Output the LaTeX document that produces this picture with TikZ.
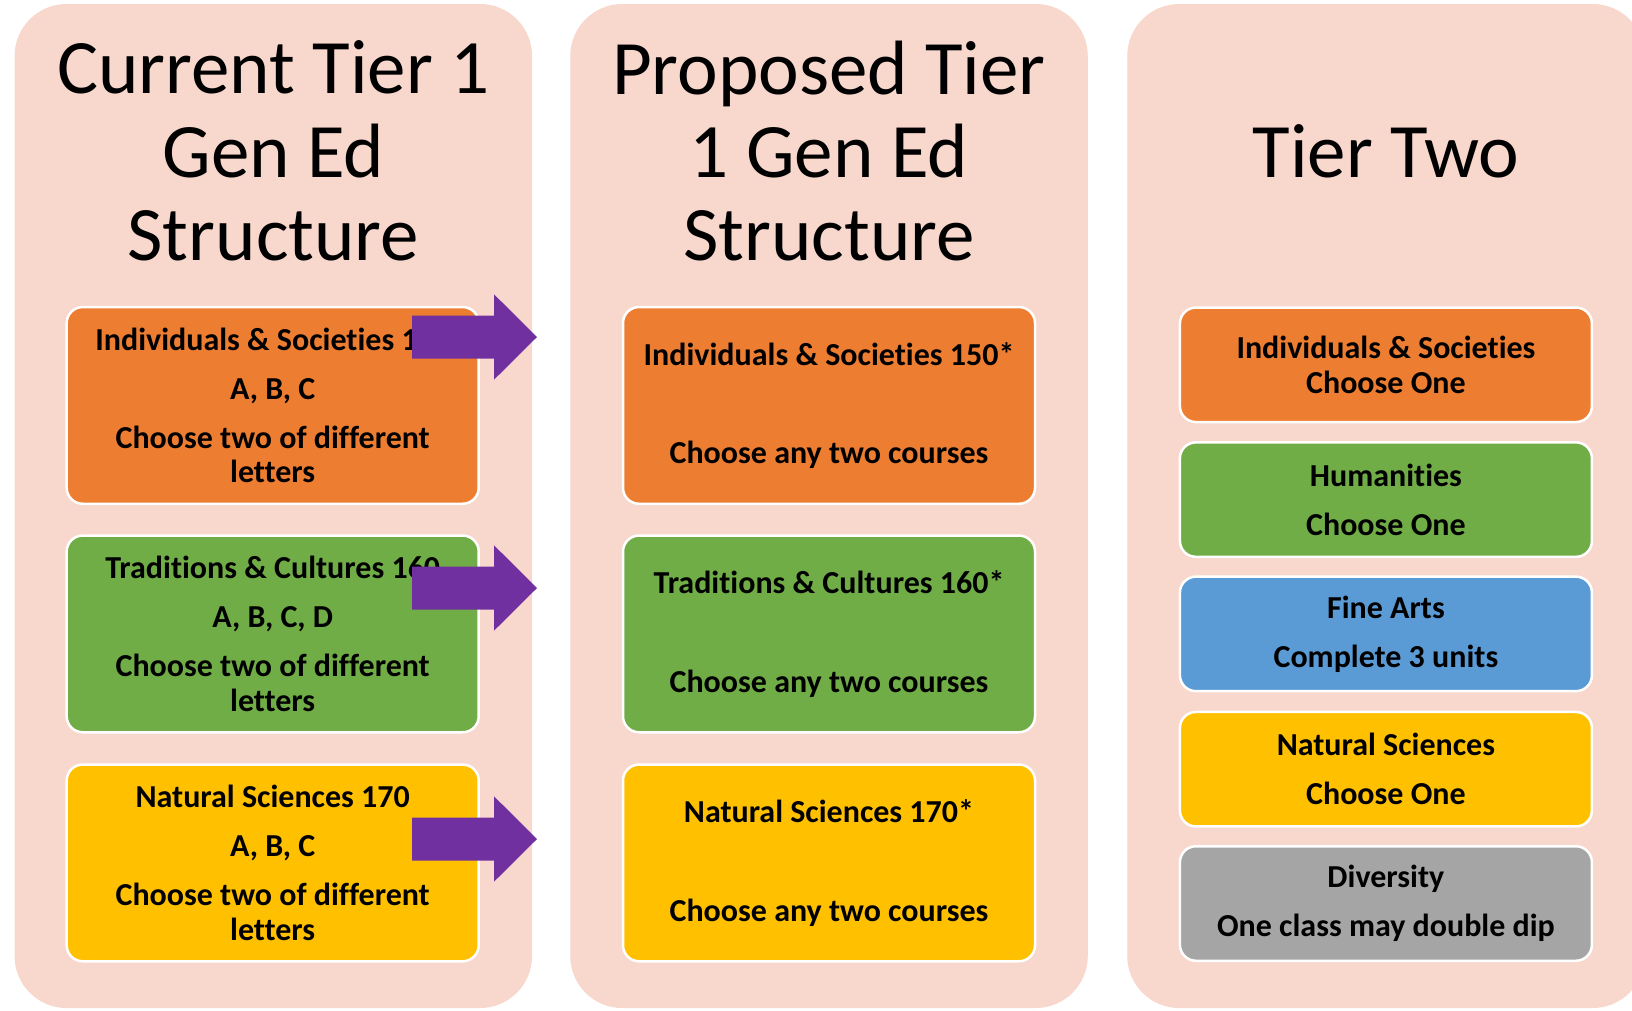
\documentclass[tikz,border=0pt]{standalone}
\usepackage{fontspec}
\setmainfont{Carlito}[Ligatures=NoCommon]
\usepackage{tikz}

\definecolor{panelpink}{HTML}{F8D7CD}
\definecolor{isorange}{HTML}{ED7D31}
\definecolor{tcgreen}{HTML}{70AD47}
\definecolor{fablue}{HTML}{5B9BD5}
\definecolor{nsgold}{HTML}{FFC000}
\definecolor{divgray}{HTML}{A5A5A5}
\definecolor{arrowpurple}{HTML}{7030A0}

\tikzset{
  panel/.style={fill=panelpink, rounded corners=52pt, minimum width=517.5pt, minimum height=1004pt, inner sep=0pt},
  heading/.style={align=center, font=\fontsize{77}{83.3}\selectfont, inner sep=0pt},
  tierbox/.style={draw=white, line width=2.5pt, rounded corners=16pt, align=center, inner sep=0pt,
    minimum width=412pt, font=\fontsize{32}{34.4}\selectfont\bfseries},
  bigbox/.style={tierbox, minimum height=196.7pt},
  smallbox/.style={tierbox, minimum height=114.5pt},
  blockarrow/.style={fill=arrowpurple}
}

\begin{document}
\begin{tikzpicture}[x=1pt,y=-1pt]
					\useasboundingbox (0,0) rectangle (1632,1010);
					\clip (0,0) rectangle (1632,1010);

					% the three columns
					\node[panel] (current) at (273.3,506) {};
					\node[panel] (proposed) at (829,506) {};
					\node[panel] (tiertwo) at (1386,506) {};

					\node[heading] (currenttitle) at (273.3,151) {Current Tier 1\\Gen Ed\\Structure};
					\node[heading] (proposedtitle) at (829,151) {Proposed Tier\\1 Gen Ed\\Structure};
					\node[heading] (tiertwotitle) at (1386,151) {Tier Two};

					% current tier 1
					\node[bigbox, fill=isorange] (curis) at (272.7,405.4)
					{Individuals \& Societies 150\\[14.5pt]A, B, C\\[14.5pt]Choose two of different\\letters};
					\node[bigbox, fill=tcgreen] (curtc) at (272.7,633.9)
					{Traditions \& Cultures 160\\[14.5pt]A, B, C, D\\[14.5pt]Choose two of different\\letters};
					\node[bigbox, fill=nsgold] (curns) at (272.7,862.9)
					{Natural Sciences 170\\[14.5pt]A, B, C\\[14.5pt]Choose two of different\\letters};

					% proposed tier 1
					\node[bigbox, fill=isorange] (newis) at (829,405.4)
					{Individuals \& Societies 150*\\[64pt]Choose any two courses};
					\node[bigbox, fill=tcgreen] (newtc) at (829,633.9)
					{Traditions \& Cultures 160*\\[64pt]Choose any two courses};
					\node[bigbox, fill=nsgold] (newns) at (829,862.9)
					{Natural Sciences 170*\\[64pt]Choose any two courses};

					% tier two
					\node[smallbox, fill=isorange] (twois) at (1385.9,364.8) {Individuals \& Societies\\Choose One};
					\node[smallbox, fill=tcgreen] (twohum) at (1385.9,499.6) {Humanities\\[14.5pt]Choose One};
					\node[smallbox, fill=fablue] (twofa) at (1385.9,633.9) {Fine Arts\\[14.5pt]Complete 3 units};
					\node[smallbox, fill=nsgold] (twons) at (1385.9,769.2) {Natural Sciences\\[14.5pt]Choose One};
					\node[smallbox, fill=divgray] (twodiv) at (1385.9,903.5) {Diversity\\[14.5pt]One class may double dip};

					% purple block arrows
					\coordinate (tipis) at (537,337);
					\coordinate (tiptc) at (537,588);
					\coordinate (tipns) at (537,839);
					\foreach \tip in {tipis,tiptc,tipns}
					  \fill[blockarrow] (\tip) -- ++(-43,-42.7) -- ++(0,21.2) -- ++(-82,0) -- ++(0,43)
					    -- ++(82,0) -- ++(0,21.2) -- cycle;
\end{tikzpicture}
\end{document}
